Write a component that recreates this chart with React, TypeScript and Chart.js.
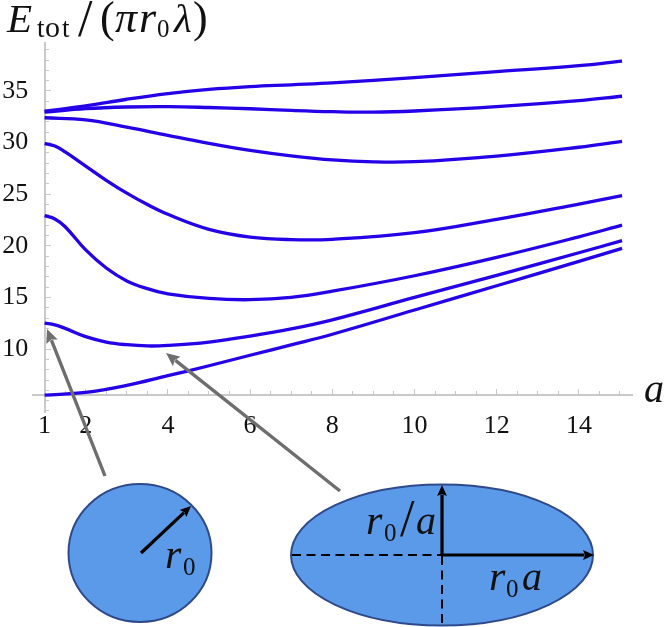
import React, { useEffect, useRef } from "react";
import { Chart, registerables } from "chart.js";

Chart.register(...registerables);

const curveA1 = [1, 2, 3, 4, 5, 6, 7, 8, 10, 12, 14, 15.05];
const curveE1 = [33.05, 33.55, 34.2, 34.75, 35.15, 35.42, 35.6, 35.78, 36.3, 36.87, 37.45, 37.9];
const curveA2 = [1, 2, 3, 4, 5, 6, 7, 8, 9, 10, 12, 14, 15.05];
const curveE2 = [32.95, 33.29, 33.45, 33.48, 33.4, 33.28, 33.12, 33.0, 32.95, 33.06, 33.48, 34.06, 34.49];
const curveA3 = [1, 2, 3, 4, 5, 6, 7, 8, 9, 10, 12, 14, 15.05];
const curveE3 = [32.41, 32.2, 31.5, 30.7, 29.93, 29.25, 28.72, 28.32, 28.13, 28.15, 28.7, 29.55, 30.12];
const curveA4 = [1, 1.25, 1.5, 2, 2.5, 3, 3.5, 4, 5, 6, 7, 8, 10, 12, 14, 15.05];
const curveE4 = [29.9, 29.68, 29.1, 27.73, 26.35, 25.1, 24.0, 23.05, 21.6, 20.85, 20.6, 20.63, 21.27, 22.57, 24.05, 24.86];
const curveA5 = [1, 1.25, 1.5, 2, 2.5, 3, 3.5, 4, 5, 6, 7, 8, 10, 12, 14, 15.05];
const curveE5 = [22.92, 22.6, 21.85, 19.6, 17.85, 16.6, 15.85, 15.35, 14.9, 14.78, 15.0, 15.6, 17.1, 18.88, 20.87, 22.0];
const curveA6 = [1, 1.25, 1.5, 2, 2.5, 3, 3.5, 4, 5, 6, 7, 8, 10, 12, 14, 15.05];
const curveE6 = [12.5, 12.35, 12.0, 11.2, 10.68, 10.42, 10.3, 10.35, 10.68, 11.25, 11.95, 12.83, 15.0, 17.14, 19.33, 20.5];
const curveA7 = [1, 2, 3, 4, 5, 6, 7, 8, 10, 12, 14, 15.05];
const curveE7 = [5.54, 5.8, 6.48, 7.42, 8.38, 9.4, 10.4, 11.43, 13.78, 16.13, 18.5, 19.76];

const xMajorTicks = [1, 2, 4, 6, 8, 10, 12, 14];
const yMajorTicks = [10, 15, 20, 25, 30, 35];

const curves = [
  [curveA1, curveE1],
  [curveA2, curveE2],
  [curveA3, curveE3],
  [curveA4, curveE4],
  [curveA5, curveE5],
  [curveA6, curveE6],
  [curveA7, curveE7],
];

const LINE = "#2400e8";
const AXIS = "#c9c9c9";
const SERIF = '"Liberation Serif"';
const X_MIN = 0.718;
const X_MAX = 15.309;
const Y_MIN = 3.9;
const Y_MAX = 39.65;

type Run = [string, number, number, string];

function runs(ctx: CanvasRenderingContext2D, items: Run[]) {
  ctx.fillStyle = "#111";
  ctx.textAlign = "left";
  ctx.textBaseline = "alphabetic";
  for (const [t, x, y, font] of items) {
    ctx.font = `${font} ${SERIF}`;
    ctx.fillText(t, x, y);
  }
}

function arrow(ctx: CanvasRenderingContext2D, x0: number, y0: number, x1: number, y1: number, color: string, w: number, head: number) {
  const ang = Math.atan2(y1 - y0, x1 - x0);
  ctx.strokeStyle = color;
  ctx.fillStyle = color;
  ctx.lineWidth = w;
  ctx.setLineDash([]);
  ctx.beginPath();
  ctx.moveTo(x0, y0);
  ctx.lineTo(x1 - Math.cos(ang) * head * 0.8, y1 - Math.sin(ang) * head * 0.8);
  ctx.stroke();
  ctx.beginPath();
  ctx.moveTo(x1, y1);
  ctx.lineTo(x1 - Math.cos(ang - 0.42) * head, y1 - Math.sin(ang - 0.42) * head);
  ctx.lineTo(x1 - Math.cos(ang) * head * 0.75, y1 - Math.sin(ang) * head * 0.75);
  ctx.lineTo(x1 - Math.cos(ang + 0.42) * head, y1 - Math.sin(ang + 0.42) * head);
  ctx.closePath();
  ctx.fill();
}

const overlay = {
  id: "overlay",
  afterDraw(chart: Chart) {
    const ctx = chart.ctx;
    ctx.save();
    runs(ctx, [
      ["E", 7, 32, "italic 41px"],
      ["t", 37, 37, "27px"],
      ["o", 45, 37, "30px"],
      ["t", 62, 37, "27px"],
      ["/", 78, 36, "52px"],
      ["(", 100, 32, "44px"],
      ["π", 115, 32, "italic 44px"],
      ["r", 139, 32, "italic 44px"],
      ["0", 157, 37, "25px"],
      ["λ", 174, 32, "italic 41px"],
      [")", 193, 32, "44px"],
      ["a", 644, 402, "italic 40px"],
    ]);

    arrow(ctx, 105, 476, 47, 329, "#6e6e6e", 3.4, 15);
    arrow(ctx, 340, 491, 166, 353, "#6e6e6e", 3.4, 15);

    ctx.fillStyle = "#5b9ae8";
    ctx.strokeStyle = "#2f4a8c";
    ctx.lineWidth = 2;
    ctx.beginPath();
    ctx.ellipse(140, 553, 71.5, 69, 0, 0, Math.PI * 2);
    ctx.fill();
    ctx.stroke();
    ctx.beginPath();
    ctx.ellipse(442, 555, 151, 70.5, 0, 0, Math.PI * 2);
    ctx.fill();
    ctx.stroke();

    arrow(ctx, 141, 553, 191, 506, "#000", 3.2, 12);
    arrow(ctx, 442, 555, 442, 485, "#000", 3.2, 12);
    arrow(ctx, 442, 555, 594, 555, "#000", 3.2, 12);

    ctx.strokeStyle = "#000";
    ctx.lineWidth = 2;
    ctx.setLineDash([9, 5.5]);
    ctx.beginPath();
    ctx.moveTo(292, 555);
    ctx.lineTo(442, 555);
    ctx.moveTo(442, 556);
    ctx.lineTo(442, 626);
    ctx.stroke();
    ctx.setLineDash([]);

    runs(ctx, [
      ["r", 165, 568, "italic 42px"],
      ["0", 183, 575, "25px"],
      ["r", 366, 534, "italic 42px"],
      ["0", 384, 541, "25px"],
      ["/", 400, 536, "52px"],
      ["a", 416, 534, "italic 40px"],
      ["r", 489, 590, "italic 42px"],
      ["0", 506, 597, "25px"],
      ["a", 522, 590, "italic 40px"],
    ]);
    ctx.restore();
  },
};

const zeroHeight = (s: any) => { s.height = 0; };
const zeroWidth = (s: any) => { s.width = 0; };

export default function App() {
  const ref = useRef<HTMLCanvasElement>(null);
  useEffect(() => {
    const tickFont = { family: SERIF, size: 26 };
    const chart = new Chart(ref.current!, {
      type: "line",
      data: {
        datasets: curves.map(([xs, ys]) => ({
          data: xs.map((x, i) => ({ x, y: ys[i] })),
          borderColor: LINE,
          borderWidth: 3.3,
          pointRadius: 0,
          tension: 0.4,
          clip: false as any,
          xAxisID: "x",
          yAxisID: "y",
        })),
      },
      options: {
        animation: false,
        responsive: false,
        parsing: false as any,
        layout: { padding: { left: 33, right: 31.3, top: 43, bottom: 215 } },
        plugins: { legend: { display: false }, title: { display: false }, tooltip: { enabled: false } },
        scales: {
          x2: {
            type: "linear",
            min: X_MIN,
            max: X_MAX,
            position: { y: 5.5 } as any,
            afterFit: zeroHeight,
            afterBuildTicks: (s: any) => {
              const t = [];
              for (let v = 1.5; v <= 15; v += 0.5) t.push({ value: v });
              s.ticks = t;
            },
            border: { display: false },
            grid: { drawOnChartArea: false, color: AXIS, tickLength: -4, tickWidth: 1 },
            ticks: { display: false, autoSkip: false },
          },
          y2: {
            type: "linear",
            min: Y_MIN,
            max: Y_MAX,
            position: { x: 1 } as any,
            afterFit: zeroWidth,
            afterBuildTicks: (s: any) => {
              const t = [];
              for (let v = 4; v <= 39; v += 1) t.push({ value: v });
              s.ticks = t;
            },
            border: { display: false },
            grid: { drawOnChartArea: false, color: AXIS, tickLength: -4, tickWidth: 1 },
            ticks: { display: false, autoSkip: false },
          },
          y3: {
            type: "linear",
            min: Y_MIN,
            max: Y_MAX,
            position: { x: 0.6 } as any,
            afterFit: zeroWidth,
            afterBuildTicks: (s: any) => { s.ticks = yMajorTicks.map((value) => ({ value })); },
            border: { display: false },
            grid: { drawOnChartArea: false, drawTicks: false },
            ticks: { font: tickFont, color: "#111", padding: 0, autoSkip: false, callback: (v: any) => String(v) },
          },
          x: {
            type: "linear",
            min: X_MIN,
            max: X_MAX,
            position: { y: 5.5 } as any,
            afterFit: zeroHeight,
            afterBuildTicks: (s: any) => { s.ticks = xMajorTicks.map((value) => ({ value })); },
            border: { display: true, color: AXIS, width: 2 },
            grid: { drawOnChartArea: false, color: AXIS, tickLength: -7, tickWidth: 1 },
            ticks: { font: tickFont, color: "#111", padding: 22, maxRotation: 0, autoSkip: false, callback: (v: any) => String(v) },
          },
          y: {
            type: "linear",
            min: Y_MIN,
            max: Y_MAX,
            position: { x: 1 } as any,
            afterFit: zeroWidth,
            afterBuildTicks: (s: any) => { s.ticks = yMajorTicks.map((value) => ({ value })); },
            border: { display: true, color: AXIS, width: 2 },
            grid: { drawOnChartArea: false, color: AXIS, tickLength: -7, tickWidth: 1 },
            ticks: { display: false, autoSkip: false },
          },
        },
      },
      plugins: [overlay],
    } as any);
    return () => chart.destroy();
  }, []);
  return (
    <div style={{ position: "absolute", left: 0, top: 0, width: 664, height: 627 }}>
      <canvas ref={ref} width={664} height={627} style={{ display: "block" }} />
    </div>
  );
}
